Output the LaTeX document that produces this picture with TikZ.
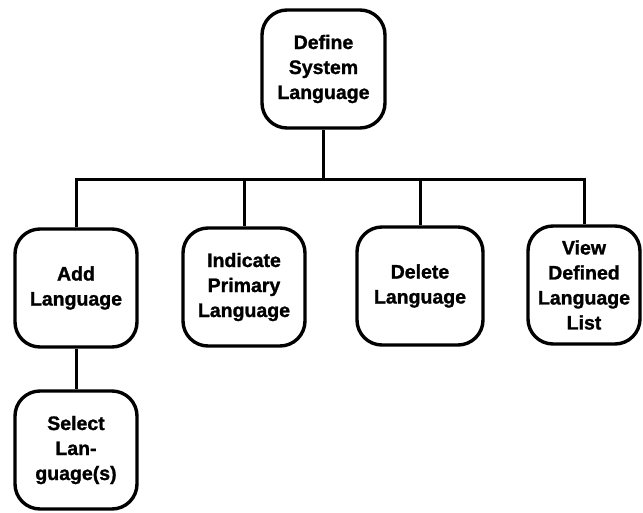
\documentclass[tikz,border=0pt]{standalone}
\usepackage{fontspec}
\setmainfont{Liberation Sans}
\newfontfamily\heavyfont{Liberation Sans}[BoldFeatures={FakeBold=1.3}]
\begin{document}
\begin{tikzpicture}[x=1pt,y=-1pt,
  fnbox/.style={draw=black, line width=3.4pt, rounded corners=25pt,
    fill=white, align=center, inner sep=0pt,
    minimum width=122pt, minimum height=118pt,
    font=\heavyfont\bfseries\fontsize{19.5}{25}\selectfont},
  link/.style={line width=3pt}]
  \useasboundingbox (0,0) rectangle (643,512);

  % function boxes
  \node[fnbox, minimum width=123pt] (top) at (323.5,69) {Define\\System\\Language};
  \node[fnbox] (add) at (76,288) {Add\\Language};
  \node[fnbox] (indicate) at (244,287) {Indicate\\Primary\\Language};
  \node[fnbox, minimum width=126pt] (delete) at (420,286) {Delete\\Language};
  \node[fnbox, minimum width=112pt] (view) at (584,285) {View\\Defined\\Language\\List};
  \node[fnbox] (select) at (76,450) {Select\\Lan-\\guage(s)};

  % hierarchy connectors
  \coordinate (bar) at (0,179);
  \draw[link] (top.south) -- (top.south |- bar);
  \draw[link] (add.north) -- (add.north |- bar) -| (view.north);
  \draw[link] (indicate.north) -- (indicate.north |- bar);
  \draw[link] (delete.north) -- (delete.north |- bar);
  \draw[link] (add.south) -- (select.north);
\end{tikzpicture}
\end{document}
